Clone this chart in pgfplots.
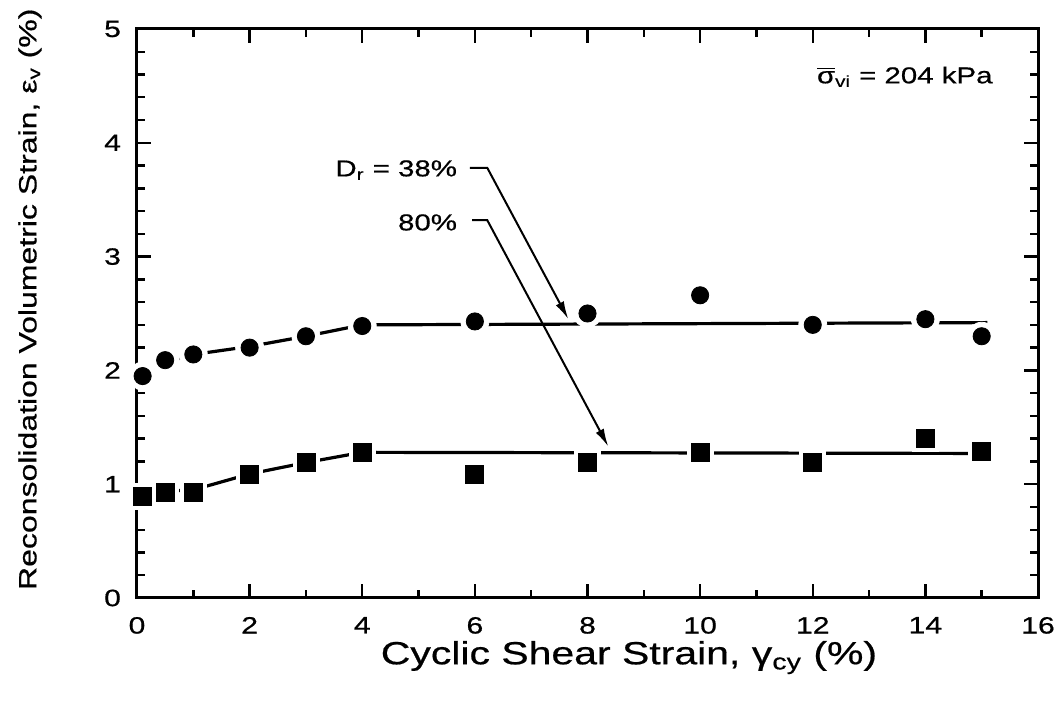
\documentclass[border=0pt]{standalone}
\usepackage{fontspec}
\setmainfont[FakeStretch=1.28, FakeBold=0.6]{Liberation Sans}
\usepackage{pgfplots}
\pgfplotsset{compat=1.18}
\usetikzlibrary{arrows.meta}
\begin{document}
\begin{tikzpicture}
\begin{axis}[
  scale only axis, width=450.5pt, height=284.5pt,
  xmin=0, xmax=16, ymin=0, ymax=5,
  xtick={0,2,...,16}, ytick={0,1,...,5},
  minor x tick num=1, minor y tick num=4,
  tick align=inside, xtick pos=both, ytick pos=both,
  xticklabel pos=lower, yticklabel pos=left,
  major tick length=7pt, minor tick length=4pt,
  axis line style={line width=1.5pt},
  every tick/.style={black, line width=1.2pt},
  /pgf/number format/assume math mode=true,
  every tick label/.append style={font=\fontsize{11.8}{13}\selectfont},
  xticklabel style={yshift=-6pt},
  yticklabel style={xshift=-4.5pt},
  xlabel={Cyclic Shear Strain, γ\textsubscript{cy} (\%)},
  ylabel={Reconsolidation Volumetric Strain, ε\textsubscript{v} (\%)},
  xlabel style={font=\fontsize{16}{18}\selectfont, at={(axis description cs:0.546,0)}, anchor=north, yshift=-18pt},
  ylabel style={font=\fontsize{12.5}{15}\selectfont, at={(axis description cs:-0.1188,0.525)}, anchor=center},
  axis on top,
  clip=false,
]
% fit lines
\addplot[black, line width=1.6pt] coordinates {(0.1,1.97) (0.5,2.07) (1,2.14) (2,2.21) (3,2.30) (4,2.40) (15.1,2.42)};
\addplot[black, line width=1.6pt] coordinates {(0.1,0.91) (0.5,0.94) (1,0.95) (2,1.09) (3,1.19) (4,1.28) (15.1,1.27)};
% halos
\addplot[only marks, mark=*, mark size=7pt, mark options={draw=white, fill=white}] coordinates {(0.1,1.95) (0.5,2.09) (1,2.14) (2,2.20) (3,2.30) (4,2.39) (6,2.43) (8,2.50) (10,2.66) (12,2.40) (14,2.45) (15,2.30)};
\addplot[only marks, mark=square*, mark size=6.5pt, mark options={draw=white, fill=white}] coordinates {(0.1,0.89) (0.5,0.93) (1,0.93) (2,1.09) (3,1.19) (4,1.28) (6,1.09) (8,1.19) (10,1.28) (12,1.19) (14,1.40) (15,1.29)};
% data
\addplot[only marks, mark=*, mark size=4.3pt, black] coordinates {(0.1,1.95) (0.5,2.09) (1,2.14) (2,2.20) (3,2.30) (4,2.39) (6,2.43) (8,2.50) (10,2.66) (12,2.40) (14,2.45) (15,2.30)};
\addplot[only marks, mark=square*, mark size=4.5pt, black] coordinates {(0.1,0.89) (0.5,0.93) (1,0.93) (2,1.09) (3,1.19) (4,1.28) (6,1.09) (8,1.19) (10,1.28) (12,1.19) (14,1.40) (15,1.29)};
% annotations
\node[anchor=east, font=\fontsize{11.5}{13}\selectfont, inner sep=0pt] at (axis cs:5.69,3.76) {D\textsubscript{r} = 38\%};
\node[anchor=east, font=\fontsize{11.5}{13}\selectfont, inner sep=0pt] at (axis cs:5.69,3.30) {80\%};
\draw[line width=1pt, -{Latex[length=9pt,width=4.5pt]}] (axis cs:5.91,3.78) -- (axis cs:6.22,3.78) -- (axis cs:7.66,2.45);
\draw[line width=1pt, -{Latex[length=9pt,width=4.5pt]}] (axis cs:5.95,3.32) -- (axis cs:6.22,3.32) -- (axis cs:8.37,1.33);
\node[anchor=east, font=\fontsize{11.5}{13}\selectfont, inner sep=0pt] at (axis cs:15.2,4.58) {$\overline{\mbox{σ}}_{\mbox{\fontsize{8}{9}\selectfont vi}}$ = 204 kPa};
\end{axis}
\pgfresetboundingbox
\path[use as bounding box] ([shift={(-68.5pt,-57.5pt)}]current axis.south west) rectangle ([shift={(13pt,14.5pt)}]current axis.north east);
\end{tikzpicture}
\end{document}
